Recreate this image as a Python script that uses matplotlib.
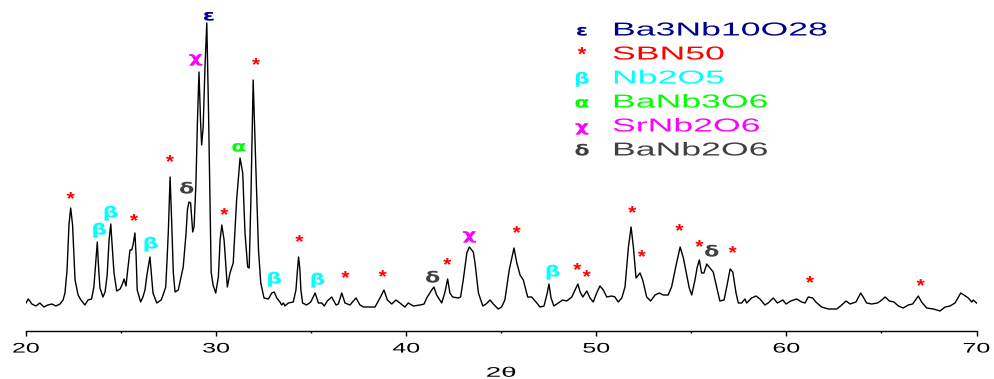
import matplotlib
matplotlib.use("Agg")
import matplotlib.pyplot as plt
import matplotlib.patheffects as pe
from matplotlib.transforms import Affine2D

# XRD pattern: 2-theta (deg) and intensity (a.u.)
two_theta = [
    20.00, 20.12, 20.31, 20.52, 20.73, 20.94, 21.15, 21.36, 21.57, 21.79,
    21.95, 22.05, 22.16, 22.26, 22.35, 22.45, 22.58, 22.74, 22.89, 23.10,
    23.26, 23.45, 23.57, 23.68, 23.75, 23.81, 23.89, 24.05, 24.16, 24.27,
    24.37, 24.46, 24.53, 24.63, 24.77, 24.95, 25.05, 25.16, 25.26, 25.35,
    25.47, 25.56, 25.63, 25.73, 25.79, 25.85, 26.03, 26.15, 26.26, 26.36,
    26.52, 26.60, 26.68, 26.88, 27.11, 27.21, 27.35, 27.42, 27.49, 27.58,
    27.66, 27.75, 27.84, 28.01, 28.27, 28.42, 28.49, 28.57, 28.66, 28.77,
    28.84, 28.94, 29.02, 29.10, 29.18, 29.24, 29.32, 29.41, 29.51, 29.60,
    29.65, 29.74, 29.84, 29.98, 30.12, 30.21, 30.30, 30.42, 30.59, 30.73,
    30.90, 31.08, 31.26, 31.40, 31.52, 31.66, 31.74, 31.83, 31.95, 32.09,
    32.23, 32.35, 32.52, 32.75, 32.93, 33.06, 33.19, 33.36, 33.45, 33.54,
    33.62, 33.80, 34.06, 34.20, 34.28, 34.34, 34.41, 34.46, 34.55, 34.76,
    34.98, 35.21, 35.38, 35.56, 35.69, 35.85, 36.08, 36.31, 36.43, 36.61,
    36.78, 37.04, 37.36, 37.57, 37.75, 38.10, 38.36, 38.62, 38.83, 39.01,
    39.24, 39.46, 39.67, 39.93, 40.11, 40.38, 40.73, 40.94, 41.08, 41.34,
    41.46, 41.60, 41.87, 42.04, 42.18, 42.30, 42.44, 42.74, 42.86, 43.00,
    43.09, 43.19, 43.32, 43.53, 43.62, 43.80, 44.03, 44.20, 44.41, 44.58,
    44.84, 45.02, 45.19, 45.42, 45.67, 45.82, 45.99, 46.16, 46.39, 46.60,
    46.87, 47.04, 47.25, 47.42, 47.51, 47.62, 47.77, 48.00, 48.23, 48.44,
    48.71, 48.88, 49.03, 49.15, 49.29, 49.50, 49.67, 49.84, 50.02, 50.19,
    50.37, 50.55, 50.81, 50.98, 51.15, 51.34, 51.51, 51.69, 51.83, 51.95,
    52.09, 52.30, 52.44, 52.65, 52.86, 53.09, 53.31, 53.52, 53.78, 53.96,
    54.20, 54.41, 54.58, 54.79, 54.89, 55.02, 55.19, 55.31, 55.42, 55.54,
    55.66, 55.81, 55.98, 56.15, 56.33, 56.50, 56.72, 56.86, 57.04, 57.18,
    57.35, 57.47, 57.65, 57.82, 57.91, 58.17, 58.40, 58.61, 58.87, 59.04,
    59.31, 59.53, 59.81, 59.98, 60.23, 60.54, 60.80, 60.98, 61.15, 61.38,
    61.55, 61.85, 62.21, 62.65, 62.91, 63.14, 63.35, 63.66, 63.91, 64.04,
    64.22, 64.48, 64.79, 65.02, 65.19, 65.42, 65.66, 65.89, 66.15, 66.41,
    66.64, 66.94, 67.11, 67.38, 67.73, 68.08, 68.35, 68.61, 68.87, 69.17,
    69.34, 69.57, 69.75, 69.83, 70.00,
]
intensity = [
    27, 31, 26, 24, 27, 23, 25, 26, 24, 26,
    30, 37, 60, 105, 122, 105, 50, 35, 30, 25,
    30, 31, 43, 70, 88, 65, 42, 33, 38, 55,
    90, 106, 85, 57, 39, 41, 45, 51, 44, 60,
    80, 80, 85, 97, 75, 40, 28, 33, 40, 55,
    73, 55, 37, 27, 30, 35, 43, 70, 100, 153,
    110, 57, 38, 40, 63, 97, 120, 128, 127, 98,
    103, 147, 210, 258, 210, 185, 203, 260, 307, 220,
    163, 58, 45, 37, 53, 90, 105, 90, 43, 57,
    67, 130, 172, 157, 97, 63, 62, 130, 250, 163,
    80, 47, 32, 31, 37, 38, 32, 28, 25, 27,
    24, 27, 28, 40, 60, 73, 60, 40, 27, 25,
    28, 37, 27, 27, 24, 29, 33, 25, 26, 37,
    27, 25, 32, 25, 23, 23, 23, 32, 40, 30,
    26, 30, 27, 23, 27, 24, 25, 26, 32, 40,
    43, 35, 27, 38, 51, 37, 33, 32, 33, 50,
    63, 77, 83, 78, 67, 37, 24, 26, 30, 26,
    21, 23, 30, 60, 82, 67, 55, 50, 33, 33,
    27, 23, 24, 37, 46, 32, 24, 27, 30, 29,
    33, 40, 46, 38, 33, 39, 32, 28, 37, 44,
    40, 33, 34, 33, 28, 32, 43, 83, 103, 83,
    52, 57, 50, 33, 29, 35, 37, 35, 35, 43,
    65, 83, 72, 52, 42, 35, 50, 63, 70, 57,
    57, 66, 62, 58, 43, 29, 30, 43, 61, 58,
    37, 27, 27, 31, 27, 32, 34, 31, 25, 27,
    32, 27, 30, 26, 29, 31, 28, 27, 33, 32,
    28, 23, 21, 21, 25, 29, 26, 28, 37, 33,
    27, 26, 27, 30, 33, 29, 28, 24, 22, 25,
    26, 34, 28, 22, 21, 19, 23, 24, 27, 37,
    35, 32, 28, 30, 27,
]

# phase symbols written above the peaks
mark_symbol = ["*", "β", "β", "*", "β", "*", "δ", "χ", "ε", "*",
               "α", "*", "β", "*", "β", "*", "*", "δ", "*", "χ",
               "*", "β", "*", "*", "*", "*", "*", "*", "δ", "*",
               "*", "*"]
mark_theta = [22.35, 23.86, 24.46, 25.68, 26.56, 27.57, 28.45, 28.93, 29.62, 30.43,
              31.20, 32.10, 33.06, 34.38, 35.34, 36.80, 38.76, 41.39, 42.16, 43.33,
              45.81, 47.71, 49.00, 49.49, 51.89, 52.39, 54.37, 55.42, 56.07, 57.17,
              61.24, 67.06]
mark_height = [131, 100, 117, 109, 86, 168, 141, 272, 314, 115,
               183, 265, 51, 88, 50, 52, 53, 52, 65, 95,
               97, 58, 60, 53, 117, 73, 99, 83, 78, 77,
               47, 44]

phase_symbol = ["ε", "*", "β", "α", "χ", "δ"]
phase_name = ["Ba3Nb10O28", "SBN50", "Nb2O5", "BaNb3O6", "SrNb2O6", "BaNb2O6"]
phase_color = ["#00008b", "#ff0000", "#00ffff", "#00ff00", "#ff00ff", "#404040"]

x_major = [20, 30, 40, 50, 60, 70]
x_minor = [25, 35, 45, 55, 65]


class Stretch(pe.AbstractPathEffect):
    """widen the glyphs sideways (the source image is stretched)"""

    def __init__(self, sx, anchor="center"):
        super().__init__()
        self.sx = sx
        self.anchor = anchor

    def draw_path(self, renderer, gc, tpath, affine, rgbFace=None):
        ext = tpath.get_extents()
        x0 = 0 if self.anchor == "left" else (ext.x0 + ext.x1) / 2
        wide = Affine2D().translate(-x0, 0).scale(self.sx, 1).translate(x0, 0)
        renderer.draw_path(gc, tpath, wide + affine, rgbFace)


plt.rcParams["font.family"] = ["Liberation Sans", "DejaVu Sans"]

fig = plt.figure(figsize=(9.95, 3.79), dpi=100)
ax = fig.add_axes([26 / 995, 48 / 379, 950.5 / 995, 331 / 379])

ax.plot(two_theta, intensity, color="black", lw=1.0)
ax.set_xlim(20, 70)
ax.set_ylim(-1, 330)

for side in ["left", "right", "top"]:
    ax.spines[side].set_visible(False)
ax.spines["bottom"].set_linewidth(1.0)
ax.set_yticks([])
ax.set_xticks(x_major)
ax.set_xticks(x_minor, minor=True)
ax.tick_params(axis="x", which="major", length=3.6, width=1.0, pad=4, labelsize=10)
ax.tick_params(axis="x", which="minor", length=1.6, width=1.0)
for tick in ax.xaxis.get_major_ticks():
    tick.label1.set_path_effects([Stretch(1.8)])
ax.set_xlabel("2θ", fontsize=10, path_effects=[Stretch(2.0)])
ax.xaxis.set_label_coords(0.5, -0.105)

color_of = dict(zip(phase_symbol, phase_color))
for sym, t, h in zip(mark_symbol, mark_theta, mark_height):
    if sym == "*":
        ax.text(t, h - 1, sym, color=color_of[sym], fontsize=13, fontweight="bold",
                ha="center", va="center", path_effects=[Stretch(1.15)])
    else:
        ax.text(t, h, sym, color=color_of[sym], fontsize=11, fontweight="bold",
                family="DejaVu Sans", ha="center", va="center",
                path_effects=[Stretch(1.45)])

# legend block, top right
for i, (sym, name, col) in enumerate(zip(phase_symbol, phase_name, phase_color)):
    y = 1 - (31 + 24 * i) / 379
    if sym == "*":
        fig.text(582 / 995, y - 1 / 379, sym, color=col, fontsize=14, fontweight="bold",
                 ha="center", va="center", path_effects=[Stretch(1.1)])
    else:
        fig.text(582 / 995, y, sym, color=col, fontsize=11, fontweight="bold",
                 family="DejaVu Sans", ha="center", va="center",
                 path_effects=[Stretch(1.45)])
    fig.text(612 / 995, y, name, color=col, fontsize=13.5, ha="left", va="center",
             path_effects=[Stretch(1.9, "left")])

fig.savefig("out.png", dpi=100)
